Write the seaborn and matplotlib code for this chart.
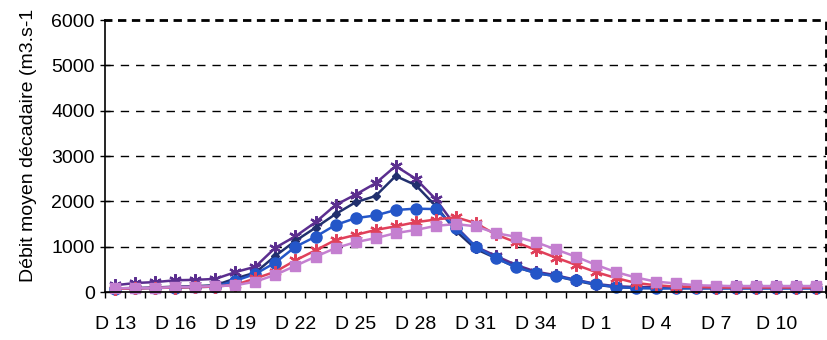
import matplotlib
matplotlib.use("Agg")
import matplotlib.pyplot as plt
import seaborn as sns
import pandas as pd
import numpy as np

decades = [f"D {i}" for i in range(13, 37)] + [f"D {i}" for i in range(1, 13)]

serie_etoile = [150, 200, 220, 260, 270, 290, 440, 560, 980, 1230, 1540, 1920, 2150, 2400, 2780, 2500,
                2050, 1450, 1000, 800, 600, 450, 370, 270, 180, 130, 110, 110, 110, 120, 120, 130, 130, 130, 130, 130]
serie_losange = [80, 90, 100, 120, 130, 150, 300, 430, 800, 1130, 1420, 1720, 1980, 2120, 2560, 2360,
                 1900, 1350, 950, 750, 550, 420, 350, 250, 160, 110, 90, 90, 90, 90, 90, 90, 90, 90, 90, 90]
serie_cercle = [70, 80, 90, 100, 110, 120, 250, 400, 650, 1000, 1220, 1480, 1630, 1690, 1810, 1840,
                1830, 1420, 1000, 750, 550, 420, 350, 260, 170, 110, 90, 80, 80, 80, 80, 80, 80, 80, 80, 80]
serie_croix = [70, 80, 90, 100, 110, 120, 160, 300, 450, 700, 920, 1150, 1260, 1370, 1450, 1540,
               1600, 1650, 1520, 1270, 1100, 930, 760, 600, 440, 310, 200, 150, 120, 110, 100, 100, 100, 100, 100, 100]
serie_carre = [80, 90, 90, 110, 120, 130, 150, 230, 380, 580, 780, 970, 1100, 1190, 1300, 1370,
               1460, 1500, 1450, 1300, 1220, 1100, 940, 780, 600, 440, 320, 230, 190, 150, 140, 130, 130, 130, 130, 130]

tick_labels = decades[::3]

sns.set_theme(style="white")
plt.rcParams["font.family"] = ["Liberation Sans", "DejaVu Sans"]

fig = plt.figure(figsize=(8.28, 3.40), dpi=100)
ax = fig.add_axes([0.127, 0.141, 0.871, 0.800])

x = np.arange(len(decades))
series = [
    (serie_etoile, "#5b2e8f", (6, 2, 0), 9, 1.6),
    (serie_losange, "#22306e", "D", 4, 1.0),
    (serie_cercle, "#2456c8", "o", 8, 1.0),
    (serie_croix, "#e0405a", (6, 2, 0), 9, 1.6),
    (serie_carre, "#c47fd0", "s", 7, 1.0),
]
for vals, col, mk, ms, mew in series:
    df = pd.DataFrame({"x": x, "y": vals})
    sns.lineplot(data=df, x="x", y="y", ax=ax, color=col, marker=mk, markersize=ms,
                 markeredgewidth=mew, markeredgecolor=col, markerfacecolor=col,
                 linewidth=1.8, clip_on=False, legend=False)

ax.set_xlim(-0.5, len(decades) - 0.5)
ax.set_ylim(0, 6000)
ax.set_yticks([0, 1000, 2000, 3000, 4000, 5000, 6000])
ax.set_xticks(x[::3])
ax.set_xticklabels(tick_labels)
ax.set_xticks(np.arange(-0.5, len(decades), 1), minor=True)
ax.tick_params(axis="x", which="major", length=0, labelsize=14, pad=17, colors="black")
ax.tick_params(axis="x", which="minor", length=4, width=1, direction="out", bottom=True, color="black")
ax.tick_params(axis="y", which="major", length=7, width=1, direction="inout", left=True,
               labelsize=14, colors="black", pad=4)

for yv in [1000, 2000, 3000, 4000, 5000]:
    ax.axhline(yv, color="black", linestyle=(0, (6, 5)), linewidth=1.0, zorder=0)

ax.set_xlabel("")
ax.set_ylabel("Débit moyen décadaire (m3.s-1", fontsize=14, color="black")
ax.yaxis.set_label_coords(-0.094, 0.54)

for side in ["top", "right"]:
    ax.spines[side].set_visible(True)
    ax.spines[side].set_color("black")
    ax.spines[side].set_linewidth(2.0)
    ax.spines[side].set_linestyle((0, (2, 3)))
ax.spines["left"].set_color("black")
ax.spines["left"].set_linewidth(1.2)
ax.spines["bottom"].set_color("black")
ax.spines["bottom"].set_linewidth(1.2)

fig.savefig("out.png", dpi=100)
